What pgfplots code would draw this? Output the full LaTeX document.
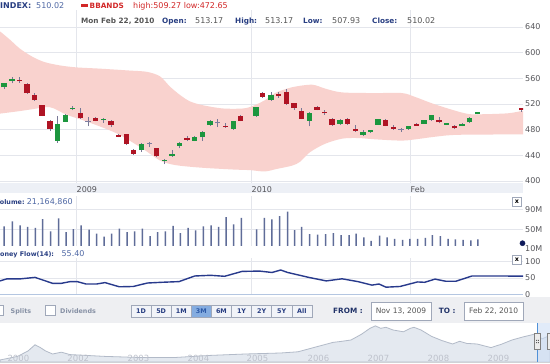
\documentclass[border=0pt]{standalone}
\usepackage{pgfplots}
\pgfplotsset{compat=1.18}
\usepackage{pgfplotstable}
\usepackage{fontspec}
\setmainfont{DejaVu Sans}

\definecolor{bandc}{RGB}{249,210,206}
\definecolor{upc}{RGB}{28,150,62}
\definecolor{dnc}{RGB}{175,20,36}
\definecolor{wickc}{RGB}{120,120,150}
\definecolor{dojic}{RGB}{125,125,160}
\definecolor{gridc}{RGB}{228,230,236}
\definecolor{stripc}{RGB}{237,240,246}
\definecolor{labc}{RGB}{85,85,90}
\definecolor{volc}{RGB}{95,108,152}
\definecolor{mfc}{RGB}{40,58,140}
\definecolor{mfbase}{RGB}{180,198,225}
\definecolor{navyc}{RGB}{40,62,130}
\definecolor{valc}{RGB}{80,105,165}
\definecolor{redc}{RGB}{210,40,40}
\definecolor{greyt}{RGB}{85,85,85}
\definecolor{barbg}{RGB}{238,239,242}
\definecolor{btnc}{RGB}{241,243,248}
\definecolor{btnb}{RGB}{160,168,185}
\definecolor{btnact}{RGB}{132,172,224}
\definecolor{btnacttext}{RGB}{45,90,168}
\definecolor{navfill}{RGB}{228,233,240}
\definecolor{navline}{RGB}{178,186,200}
\definecolor{navlab}{RGB}{190,194,204}
\definecolor{cbtext}{RGB}{135,145,165}
\definecolor{dotc}{RGB}{14,26,90}
\definecolor{selc}{RGB}{205,222,245}
\definecolor{selline}{RGB}{80,145,215}

\newcommand{\fr}{\fontsize{8}{9.6}\selectfont}
\newcommand{\fb}{\fontsize{7.3}{8.8}\selectfont\bfseries}
\newcommand{\fbb}{\fontsize{8}{9.6}\selectfont\bfseries}
\newcommand{\fbs}{\fontsize{6.4}{7.6}\selectfont\bfseries}
\newcommand{\fbtn}{\fontsize{6.4}{7.6}\selectfont\bfseries}

% candles: x o h l c
\pgfplotstableread{
x o h l c
4 546 553 543 552
12 556 561.5 552 559
57.7 463 501 460 489
65.3 492.5 504 492 502.5
72.7 512 517 510 514
103.3 495 498 491 497
141.7 448 459 446 457
164.3 431.5 435 426 433.5
172 439 448 438 442
179.7 455 461 451 459
194.7 463 470 462 469
202.3 468 478 463 477
210 487 495 486 494
233.3 481 494 480 493
256 501 516 500 515
271 526 538 525 533.5
309.3 494 508 485 506.5
340 489 497 488 495
363 472 479.5 470 476
370.7 476 480 475 479.5
378 488 497 487 496
408.7 481 486 480 485
424 489.5 495 489 494.6
431.7 495 503 494 502.4
446.7 487.4 491 487 490
462 485 490 485 489.5
469.7 491.5 499 491 498.7
477.3 504.4 508 504 507
}\greentab

\pgfplotstableread{
x o h l c
19.3 557 561.5 553 555
27 551 552 536 537
34.7 534 537.5 525 526
42 518 519 501 502
50 494 495 478 481
80.3 506.5 514 497 498
95.7 498 499 493 494
111 493 495 484 487
118.7 472 473 468 469
126.3 473 474 456 457.5
133.7 449 450 441 442
156.7 451 452 438 439
187 467 470 462 464
225.7 486 491 483 484
240.7 501 503 493 493.5
262.7 537.5 539 530 531.5
278.7 535.6 539 530 532.4
286.3 539 543 519 520
294 521 522 511 514
301.7 509.6 514 496 497
317 515 517 510 511
324.7 508 511 503 505.5
332 497 498 486 487
347.7 497 498 488 489
355.3 480.6 488 477 478
385.7 495 496 485 486
393.3 484 487 480 481
416.3 489 490 486 486.4
439 495 500 490 491.5
454.3 486 487 481 482
521.7 513.17 513.17 507.93 510.02
}\redtab

\pgfplotstableread{
x o h l c
88 492 500 485 493
149.3 457.5 461.5 452.5 458
217.7 490 496 484 491
401 480 483 477 480.5
}\dojitab

\pgfplotstableread{
x v
4 56
12.3 66
20 58
27.7 55
35.3 52.5
42.7 70.5
50.7 45.6
58.7 72
66 44
73.3 50
81 58
89 49
96.7 41
104 35
111.7 41
119.3 51
127 44
134.7 45.6
142.3 51
150 36
157.7 44
165.3 45.6
173 56.6
180.3 42
188 52.5
195.7 47.7
203.3 56
211 58
218.7 54.6
226 74.7
233.7 60
241.3 73.3
256.7 49.8
264.3 73.3
271.9 70
279.6 77
287.7 86
294.7 48
301.7 55
309.5 40
317.5 39
325.6 40
333.3 42
341 38
349 38
356 41
363.9 33
371.2 26
379.6 37
387 33
394.7 30
402.5 28
409.8 30
417.5 30
425.3 32
432.3 38
440.4 36
448 30
455.4 29
463.2 28
470.9 27
477.9 29
}\voltab

\pgfplotsset{
  panel/.style={scale only axis, width=523pt, xmin=0, xmax=523, anchor=south west,
    axis line style={draw=none}, major tick length=0pt, tick style={draw=none},
    xmajorgrids, ymajorgrids, grid style={draw=gridc, line width=0.7pt},
    xtick={76,251,410},
    yticklabel pos=right,
    y tick label style={anchor=west, inner sep=0pt, xshift=2pt, text=labc, font=\fr},
    x tick label style={text=labc, font=\fr},
    /pgf/number format/assume math mode=true},
  wick/.style={draw=none, mark=none, forget plot,
    error bars/.cd, y dir=plus, y explicit, error mark=none,
    error bar style={draw=wickc, line width=0.9pt}},
  body/.style={draw=none, mark=none, forget plot,
    error bars/.cd, y dir=plus, y explicit, error mark=none,
    error bar style={draw=#1, line width=5.5pt}},
}

\begin{document}
\begin{tikzpicture}
\path[use as bounding box] (0,0) rectangle (550pt,364pt);
\begin{scope}
\clip (0,0) rectangle (550pt,364pt);
\fill[white] (0,0) rectangle (550pt,364pt);
\begin{scope}[shift={(0pt,364pt)}, yscale=-1, x=1pt, y=1pt]
  \fill[stripc] (0,183) rectangle (523,193);
  \fill[barbg] (0,297) rectangle (550,323);
\end{scope}

% ---------- main price chart ----------
\begin{axis}[panel, at={(0pt,181pt)}, height=173pt, ymin=397, ymax=666.3,
  ytick={400,440,480,520,560,600,640}, yticklabels={400,440,480,520,560,600,640},
  xticklabels={2009,2010,Feb},
  xticklabel style={anchor=north west, inner sep=0pt, xshift=0.5pt, yshift=-3pt}]
  \addplot[fill=bandc, draw=none, smooth, forget plot] coordinates {
   (0,633)(10,620)(20,606)(33,593)(45,585)(60,580)(76,577)(100,575)(130,572)(147,570)(160,563)
   (170,547)(180,534)(190,524)(203,518)(223,513)(243,513)(253,517)(265,526)(275,537)
   (292,546)(312,550)(325,544)(342,538)(375,537)(402,537)(415,531)(432,521)(452,511)
   (468,504.5)(482,504)(508,505.5)(523,509.27)(535,510)
   (535,472.7)(523,472.65)(458,472)(435,469)(418,465.5)(402,463)(375,465)(358,467)(342,466)
   (325,458)(310,445)(300,430)(292,424)(277,419)(265,415)(250,417)(233,418)(200,421)
   (175,425)(160,432)(143,450)(117,474)(87,492.5)(67,503)(50,515)(33,512)(20,509)(0,505)}
   -- cycle;

  \addplot[wick] table[x=x, y=l, y error expr={\thisrow{h}-\thisrow{l}}] {\greentab};
  \addplot[wick] table[x=x, y=l, y error expr={\thisrow{h}-\thisrow{l}}] {\redtab};
  \addplot[wick] table[x=x, y=l, y error expr={\thisrow{h}-\thisrow{l}}] {\dojitab};
  \addplot[body=upc] table[x=x, y expr={min(\thisrow{o},\thisrow{c})},
     y error expr={max(abs(\thisrow{c}-\thisrow{o}),1.2)}] {\greentab};
  \addplot[body=dnc] table[x=x, y expr={min(\thisrow{o},\thisrow{c})},
     y error expr={max(abs(\thisrow{c}-\thisrow{o}),1.2)}] {\redtab};
  \addplot[body=dojic] table[x=x, y expr={min(\thisrow{o},\thisrow{c})},
     y error expr={max(abs(\thisrow{c}-\thisrow{o}),1.2)}] {\dojitab};
\end{axis}

% ---------- volume ----------
\begin{axis}[panel, at={(0pt,118pt)}, height=50pt, ymin=15.5, ymax=118.2,
  ytick={50,90}, yticklabels={50M,90M}, xticklabels={}]
  \addplot[ybar, bar width=1.5pt, bar shift=0pt, fill=volc, draw=none] table[x=x, y=v] {\voltab};
  \addplot[only marks, mark=*, mark size=2.6pt, color=dotc] coordinates {(522.5,21.16)};
\end{axis}

% ---------- money flow ----------
\begin{axis}[panel, at={(0pt,69.4pt)}, height=36.6pt, ymin=0, ymax=109.6,
  ytick={50,100}, yticklabels={50,100}, xticklabels={},
  extra y ticks={0}, extra y tick labels={0},
  extra y tick style={grid style={draw=mfbase, line width=0.9pt}}]
  \addplot[draw=mfc, line width=1.4pt] coordinates {
   (0,41)(7,47.3)(21,47.3)(35,51.5)(52.6,33.8)(61.4,33.8)(70.2,38.9)(77.2,38.9)(86,31.7)
   (96.5,31.7)(105,35.9)(119.3,23.4)(133.3,24.3)(147.4,34.7)(161.4,36.8)(179,38.9)
   (194.7,55.7)(210.5,57.8)(224.6,54.8)(242.1,69.5)(259.6,70.4)(272,66.2)(280.7,73.6)
   (287.7,66.2)(308.8,51.5)(326.3,41)(342.1,47.3)(357.9,38.9)(371.9,28.4)(379,31.7)
   (386,22.2)(400,24.3)(417.5,37.9)(424.6,36.8)(435,46.4)(445.6,40.1)(456,40.1)
   (472,55.7)(491.2,55.7)(523,55.4)};
\end{axis}

% ---------- navigator ----------
\begin{axis}[at={(0pt,2pt)}, anchor=south west, scale only axis, width=550pt, height=39pt,
  xmin=0, xmax=550, ymin=0, ymax=39, hide axis]
  \addplot[fill=navfill, draw=navline, line width=0.8pt] coordinates {
   (0,2)(17.5,5.6)(28,11)(35,17.2)(40.4,14.4)(45.6,11)(52.6,8)(61.4,9.8)(70,7.4)(105,5.6)
   (140,4.5)(175,4.5)(210.5,6.6)(245.6,8)(280.7,9)(298,10.2)(315.8,15)(333,19.6)(342,20.7)
   (351,22)(361.4,27.7)(370,33.7)(375.4,36.1)(380.7,33.7)(386,34.7)(393,32)(403.5,30.2)
   (410.5,33.7)(414,34.7)(421,32)(431.6,25.6)(442,21.4)(452.6,18)(459.6,20.7)(466.7,18.6)
   (477,18)(491,14.4)(501.8,17.9)(512,22)(522.8,25)(536.8,28.4)(542,23.1)(550,26.6)}
   \closedcycle;
\end{axis}

% ---------- overlays (pixel coordinates, y downward) ----------
\begin{scope}[shift={(0pt,364pt)}, yscale=-1, x=1pt, y=1pt]
  % header row 1
  \node[anchor=base west, inner sep=0pt, font=\fbb, text=navyc] at (0,9) {INDEX:};
  \node[anchor=base west, inner sep=0pt, font=\fr, text=valc] at (36,9) {510.02};
  \fill[redc] (81,4) rectangle (88,7.5);
  \node[anchor=base west, inner sep=0pt, font=\fb, text=redc] at (89.5,9) {BBANDS};
  \node[anchor=base west, inner sep=0pt, font=\fr, text=redc] at (133,9) {high:509.27 low:472.65};
  % header row 2
  \node[anchor=base west, inner sep=0pt, font=\fb, text=greyt] at (81,23.3) {Mon Feb 22, 2010};
  \node[anchor=base west, inner sep=0pt, font=\fb, text=navyc] at (162,23.3) {Open:};
  \node[anchor=base west, inner sep=0pt, font=\fr, text=greyt] at (195,23.3) {513.17};
  \node[anchor=base west, inner sep=0pt, font=\fb, text=navyc] at (235,23.3) {High:};
  \node[anchor=base west, inner sep=0pt, font=\fr, text=greyt] at (265,23.3) {513.17};
  \node[anchor=base west, inner sep=0pt, font=\fb, text=navyc] at (303,23.3) {Low:};
  \node[anchor=base west, inner sep=0pt, font=\fr, text=greyt] at (332,23.3) {507.93};
  \node[anchor=base west, inner sep=0pt, font=\fb, text=navyc] at (372,23.3) {Close:};
  \node[anchor=base west, inner sep=0pt, font=\fr, text=greyt] at (407,23.3) {510.02};
  % volume header
  \node[anchor=base west, inner sep=0pt, font=\fbs, text=navyc] at (-4.9,204.3) {Volume:};
  \node[anchor=base west, inner sep=0pt, font=\fr, text=valc] at (26.7,204.3) {21,164,860};
  \node[anchor=west, inner sep=0pt, font=\fr, text=labc] at (525,248.2) {10M};
  \draw[draw=btnb, fill=white, line width=0.5pt] (512.5,197.5) rectangle (521.5,206.5);
  \node[inner sep=0pt, font=\fbs] at (517,201.8) {x};
  % money flow header
  \node[anchor=base west, inner sep=0pt, font=\fbs, text=navyc] at (-6.4,256.8) {Money Flow(14):};
  \node[anchor=base west, inner sep=0pt, font=\fr, text=valc] at (61.4,256.8) {55.40};
  \draw[draw=btnb, fill=white, line width=0.5pt] (512.5,255.5) rectangle (521.5,264.5);
  \node[inner sep=0pt, font=\fbs] at (517,259.8) {x};
  % checkboxes
  \draw[draw=btnb, fill=white, line width=0.5pt] (-6.5,305.5) rectangle (3.5,315.5);
  \node[anchor=base west, inner sep=0pt, font=\fbtn, text=cbtext] at (10.5,313.6) {Splits};
  \draw[draw=btnb, fill=white, line width=0.5pt] (45,305.5) rectangle (55.4,315.5);
  \node[anchor=base west, inner sep=0pt, font=\fbtn, text=cbtext] at (60,313.6) {Dividends};
  % range buttons
  \foreach \lab [count=\i from 0] in {1D,5D,1M,3M,6M,1Y,2Y,5Y,All} {
    \pgfmathsetmacro{\bx}{131+20.1*\i}
    \ifnum\i=3
      \draw[draw=btnb, fill=btnact, line width=0.5pt] (\bx,305) rectangle ++(20.1,12);
      \node[inner sep=0pt, font=\fbtn, text=btnacttext] at (\bx+10.05,311.2) {\lab};
    \else
      \draw[draw=btnb, fill=btnc, line width=0.5pt] (\bx,305) rectangle ++(20.1,12);
      \node[inner sep=0pt, font=\fbtn, text=navyc] at (\bx+10.05,311.2) {\lab};
    \fi
  }
  \node[anchor=base west, inner sep=0pt, font=\fb, text=navyc!80!black] at (333,313.8) {FROM :};
  \draw[draw=btnb, fill=white, line width=0.5pt] (371,302) rectangle (431,320);
  \node[inner sep=0pt, font=\fontsize{7.5}{9}\selectfont, text=greyt] at (401,311) {Nov 13, 2009};
  \node[anchor=base west, inner sep=0pt, font=\fb, text=navyc!80!black] at (438.6,313.8) {TO :};
  \draw[draw=btnb, fill=white, line width=0.5pt] (464,302) rectangle (523.5,320);
  \node[inner sep=0pt, font=\fontsize{7.5}{9}\selectfont, text=greyt] at (493.7,311) {Feb 22, 2010};
  % navigator
  \draw[gridc!80!gray, line width=0.6pt] (0,362.5) -- (550,362.5);
  \foreach \yr/\xc in {2000/18.4,2002/78.3,2003/138.5,2004/198.5,2005/257.5,2006/318.5,2007/378.5,2008/438.5,2009/498.5}
    \node[anchor=base, inner sep=0pt, font=\fontsize{8.5}{10}\selectfont, text=navlab] at (\xc,361.3) {\yr};
  \fill[selc, opacity=0.6] (537,323) rectangle (550,362);
  \draw[selline, line width=0.9pt] (537,323) -- (537,362);
  \draw[draw=gray, fill=gray!15, line width=0.5pt] (534.5,333) rectangle (540,349);
  \draw[draw=gray, fill=gray!15, line width=0.5pt] (547,333) rectangle (552.5,349);
  \fill[gray!70!black] (536.2,340) rectangle ++(0.9,0.9) (538,340) rectangle ++(0.9,0.9)
    (536.2,342.2) rectangle ++(0.9,0.9) (538,342.2) rectangle ++(0.9,0.9);
\end{scope}
\end{scope}
\end{tikzpicture}
\end{document}
